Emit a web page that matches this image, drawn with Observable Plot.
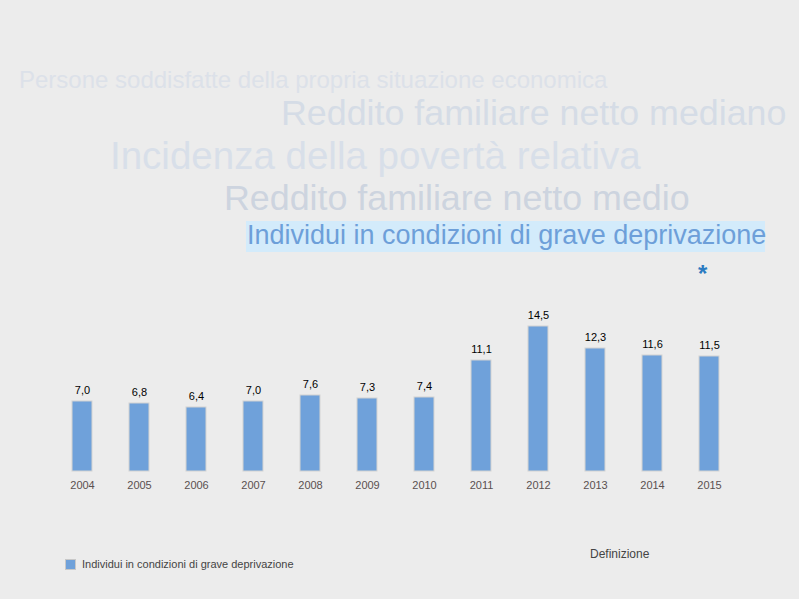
<!DOCTYPE html>
<html>
<head>
<meta charset="utf-8">
<script src="https://cdn.jsdelivr.net/npm/d3@7"></script>
<script src="https://cdn.jsdelivr.net/npm/@observablehq/plot@0.6"></script>
<style>
  html, body { margin: 0; padding: 0; background: #ececec; width: 799px; height: 599px; overflow: hidden; font-family: "Liberation Sans", Arial, sans-serif; }
  .t { position: absolute; white-space: nowrap; line-height: 1; }
  #chart { position: absolute; left: 0; top: 290px; }
</style>
</head>
<body>
<div class="t" style="left:19px; top:68px; font-size:24px; color:#dce1e9;">Persone soddisfatte della propria situazione economica</div>
<div class="t" style="left:281px; top:96px; font-size:35.8px; color:#d5dce6;">Reddito familiare netto mediano</div>
<div class="t" style="left:110px; top:137px; font-size:38.5px; color:#d8dfe9;">Incidenza della povertà relativa</div>
<div class="t" style="left:224px; top:181px; font-size:35.8px; color:#cdd4df;">Reddito familiare netto medio</div>
<div class="t" style="left:246px; top:221px; width:519px; height:31px; background:#d3ebfb;"></div>
<div class="t" style="left:247px; top:222px; font-size:27px; color:#6d9fd9;">Individui in condizioni di grave deprivazione</div>
<div class="t" style="left:698px; top:262px; font-size:24px; font-weight:bold; color:#2b7bc1;">*</div>
<div id="chart"></div>
<div class="t" style="left:65px; top:559px; width:9px; height:9px; background:#6fa1da; border:1px solid #c8c8c8;"></div>
<div class="t" style="left:82px; top:559px; font-size:11px; color:#444;">Individui in condizioni di grave deprivazione</div>
<div class="t" style="left:590px; top:548px; font-size:12px; color:#444;">Definizione</div>
<script>
const years = ["2004","2005","2006","2007","2008","2009","2010","2011","2012","2013","2014","2015"];
const values = [7.0, 6.8, 6.4, 7.0, 7.6, 7.3, 7.4, 11.1, 14.5, 12.3, 11.6, 11.5];
const data = years.map((y, i) => ({year: y, value: values[i]}));

const chart = Plot.plot({
  width: 799,
  height: 210,
  marginLeft: 53.5,
  marginRight: 61.5,
  marginTop: 36,
  marginBottom: 29,
  style: {background: "transparent", fontFamily: "Liberation Sans, Arial, sans-serif", fontSize: "11px"},
  x: {domain: years, paddingInner: 0.65, paddingOuter: 0.325, round: false, label: null},
  y: {domain: [0, 14.5], axis: null},
  marks: [
    Plot.barY(data, {x: "year", y: "value", fill: "#6fa1da", stroke: "#d2d2d2", strokeWidth: 1}),
    Plot.text(data, {x: "year", y: "value", text: d => d.value.toFixed(1).replace(".", ","), dy: -11, fill: "#000", fontSize: 11}),
    Plot.axisX({tickSize: 0, tickPadding: 10, fill: "#5a5050", fontSize: 11, label: null})
  ]
});
document.getElementById("chart").appendChild(chart);
</script>
</body>
</html>
